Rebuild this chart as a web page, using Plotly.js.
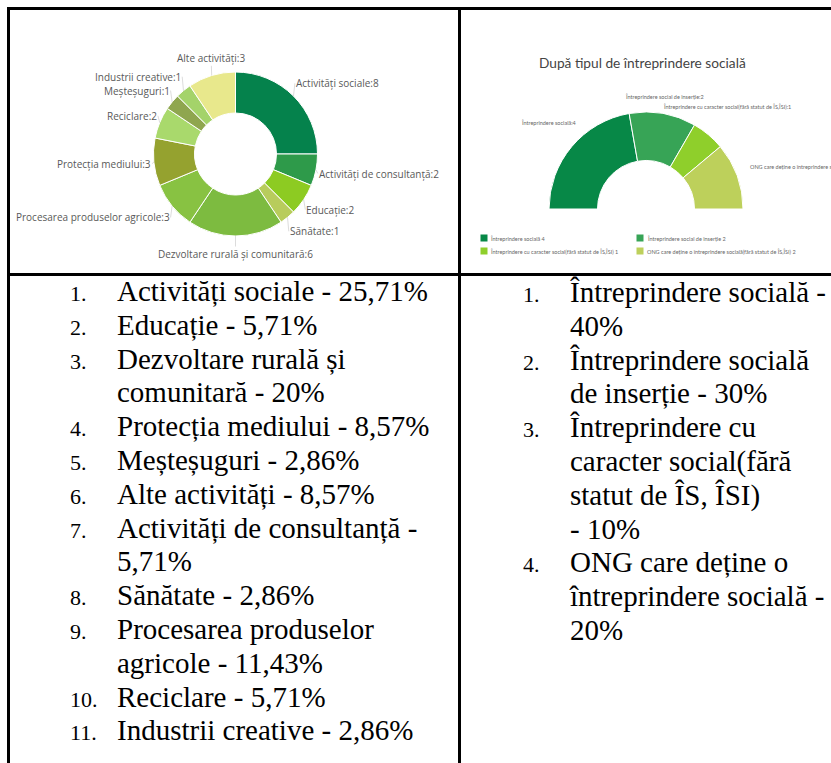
<!DOCTYPE html>
<html><head><meta charset="utf-8">
<script src="https://cdn.plot.ly/plotly-3.0.1.min.js"></script>
<style>
html,body{margin:0;padding:0;background:#fff;overflow:hidden;}
#page{position:relative;width:831px;height:763px;overflow:hidden;background:#fff;}
#chart{position:absolute;left:0;top:0;width:831px;height:763px;}
.bd{position:absolute;background:#000;}
.list{position:absolute;font-family:"Liberation Serif","Times New Roman",serif;font-size:29px;line-height:33.8px;color:#000;}
.item{padding-left:47px;text-indent:-47px;white-space:pre-line;}
.num{display:inline-block;width:47px;text-indent:0;font-size:22px;line-height:1;}
</style></head>
<body><div id="page"><div id="chart"></div>
<div class="bd" style="left:7px;top:7px;width:824px;height:3px"></div>
<div class="bd" style="left:7px;top:7px;width:3px;height:756px"></div>
<div class="bd" style="left:458px;top:7px;width:3px;height:756px"></div>
<div class="bd" style="left:7px;top:273px;width:824px;height:3px"></div>
<div class="list" id="leftList" style="left:70px;top:275px;width:390px"></div>
<div class="list" id="rightList" style="left:523px;top:276px;width:320px"></div>
</div>
<script>
// ---- data ----
const activityLabels = ['Activități sociale','Activități de consultanță','Educație','Sănătate','Dezvoltare rurală și comunitară','Procesarea produselor agricole','Protecția mediului','Reciclare','Meșteșuguri','Industrii creative','Alte activități'];
const activityValues = [8,2,2,1,6,3,3,2,1,1,3];
const activityColors = ['#05824C','#2E9A4A','#8DCB22','#B8CC5C','#7DBB40','#88C242','#95A22F','#A9D96C','#8FA64F','#A4D36A','#E8E88C'];

const typeLabels = ['Întreprindere socială','Întreprindere social de inserție','Întreprindere cu caracter social(fără statut de ÎS,ÎSI)','ONG care deține o întreprindere socială(fără statut de ÎS,ÎSI)'];
const typeValues = [4,2,1,2];
const typeColors = ['#078847','#37A456','#8FCF2B','#BDD05B'];
const typeTitle = 'După tipul de întreprindere socială';

const activityList = ['Activități sociale - 25,71%','Educație - 5,71%','Dezvoltare rurală și\ncomunitară - 20%','Protecția mediului - 8,57%','Meșteșuguri - 2,86%','Alte activități - 8,57%','Activități de consultanță -\n5,71%','Sănătate - 2,86%','Procesarea produselor\nagricole - 11,43%','Reciclare - 5,71%','Industrii creative - 2,86%'];
const typeList = ['Întreprindere socială -\n40%','Întreprindere socială\nde inserție - 30%','Întreprindere cu\ncaracter social(fără\nstatut de ÎS, ÎSI)\n- 10%','ONG care deține o\nîntreprindere socială -\n20%'];

// ---- layout helpers ----
const W = 831, H = 763;
function dom(cx, cy, r){ return {x:[(cx-r)/W,(cx+r)/W], y:[1-(cy+r)/H,1-(cy-r)/H]}; }
const px = x => x/W, py = y => 1-y/H;

// pie geometry
const L = {cx:235.5, cy:154, r:82, lx:84, ly:100};
const R = {cx:646, cy:209, r:97};

// mid angles (clockwise from 12 o'clock, degrees) computed from values
function midAngles(values, total, start){
  let acc = 0;
  return values.map(v => { const a = start + (acc + v/2)/total*360; acc += v; return a; });
}

const leftPie = {
  type:'pie', labels:activityLabels, values:activityValues, sort:false, direction:'clockwise', rotation:0,
  hole:0.5, domain:dom(L.cx,L.cy,L.r),
  marker:{colors:activityColors, line:{color:'#ffffff', width:1}},
  textinfo:'none', hoverinfo:'none', showlegend:false
};
const typeTotal = typeValues.reduce((a,b)=>a+b,0);
const rightPie = {
  type:'pie', labels:typeLabels.concat(['rest']), values:typeValues.concat([typeTotal]), sort:false,
  direction:'clockwise', rotation:-90, hole:0.5, domain:dom(R.cx,R.cy,R.r),
  marker:{colors:typeColors.concat(['rgba(0,0,0,0)']), line:{color:'#ffffff', width:[1,1,1,1,0]}},
  textinfo:'none', hoverinfo:'none', showlegend:false
};

const annotations = [];
// left donut labels with short leader lines
const actTotal = activityValues.reduce((a,b)=>a+b,0);
midAngles(activityValues, actTotal, 0).forEach((deg,i)=>{
  const t = deg*Math.PI/180, s = Math.sin(t), c = Math.cos(t);
  const hx = L.cx + L.r*s, hy = L.cy - L.r*c;
  const tx = L.cx + L.lx*s, ty = L.cy - L.ly*c;
  const xa = s > 0.35 ? 'left' : (s < -0.35 ? 'right' : 'center');
  annotations.push({
    text: activityLabels[i]+':'+activityValues[i], x:px(hx), y:py(hy), xref:'paper', yref:'paper',
    showarrow:true, arrowhead:0, arrowwidth:0.6, arrowcolor:'#c4c4c4', standoff:0,
    ax: tx-hx, ay: ty-hy, xanchor:xa, yanchor:'middle', borderpad:0,
    font:{family:'Open Sans, sans-serif', size:10, color:'#595959'}
  });
});
// right half-donut labels
midAngles(typeValues, typeTotal*2, -90).forEach((deg,i)=>{
  const t = deg*Math.PI/180, s = Math.sin(t), c = Math.cos(t);
  const diag = Math.abs(s) > 0.3 && Math.abs(s) < 0.85;
  const rr = R.r*(diag ? 1.3 : 1.12);
  const tx = R.cx + rr*s, ty = R.cy - rr*c;
  const xa = diag ? 'center' : (s > 0.3 ? 'left' : (s < -0.3 ? 'right' : 'center'));
  annotations.push({
    text: typeLabels[i]+':'+typeValues[i], x:px(tx), y:py(ty), xref:'paper', yref:'paper', showarrow:false,
    xanchor:xa, yanchor:'bottom', font:{family:'Lato, sans-serif', size:5.5, color:'#666666'}
  });
});
annotations.push({
  text:typeTitle, x:px(642), y:py(62), xref:'paper', yref:'paper', showarrow:false,
  xanchor:'center', yanchor:'middle', font:{family:'Lato, sans-serif', size:13.7, color:'#444444'}
});
const colX = [483.5, 640], rowY = [238, 251];
typeLabels.forEach((l,i)=>{
  const cx = colX[i%2], cy = rowY[Math.floor(i/2)];
  annotations.push({text:' ', x:px(cx), y:py(cy), xref:'paper', yref:'paper', showarrow:false,
    xanchor:'center', yanchor:'middle', width:6, height:6, borderpad:0, bgcolor:typeColors[i], font:{size:1}});
  annotations.push({text:l+' '+typeValues[i], x:px(cx+4.5), y:py(cy), xref:'paper', yref:'paper', showarrow:false,
    xanchor:'left', yanchor:'middle', font:{family:'Lato, sans-serif', size:5.5, color:'#666666'}});
});

Plotly.newPlot('chart', [leftPie, rightPie], {
  width:W, height:H, margin:{l:0,r:0,t:0,b:0}, paper_bgcolor:'#ffffff', plot_bgcolor:'#ffffff',
  annotations:annotations, showlegend:false
}, {staticPlot:true, displayModeBar:false});

function fillList(id, items){
  const el = document.getElementById(id);
  items.forEach((t,i)=>{
    const d = document.createElement('div'); d.className='item';
    const n = document.createElement('span'); n.className='num'; n.textContent=(i+1)+'.';
    d.appendChild(n); d.appendChild(document.createTextNode(t)); el.appendChild(d);
  });
}
fillList('leftList', activityList);
fillList('rightList', typeList);
</script>
</body></html>
